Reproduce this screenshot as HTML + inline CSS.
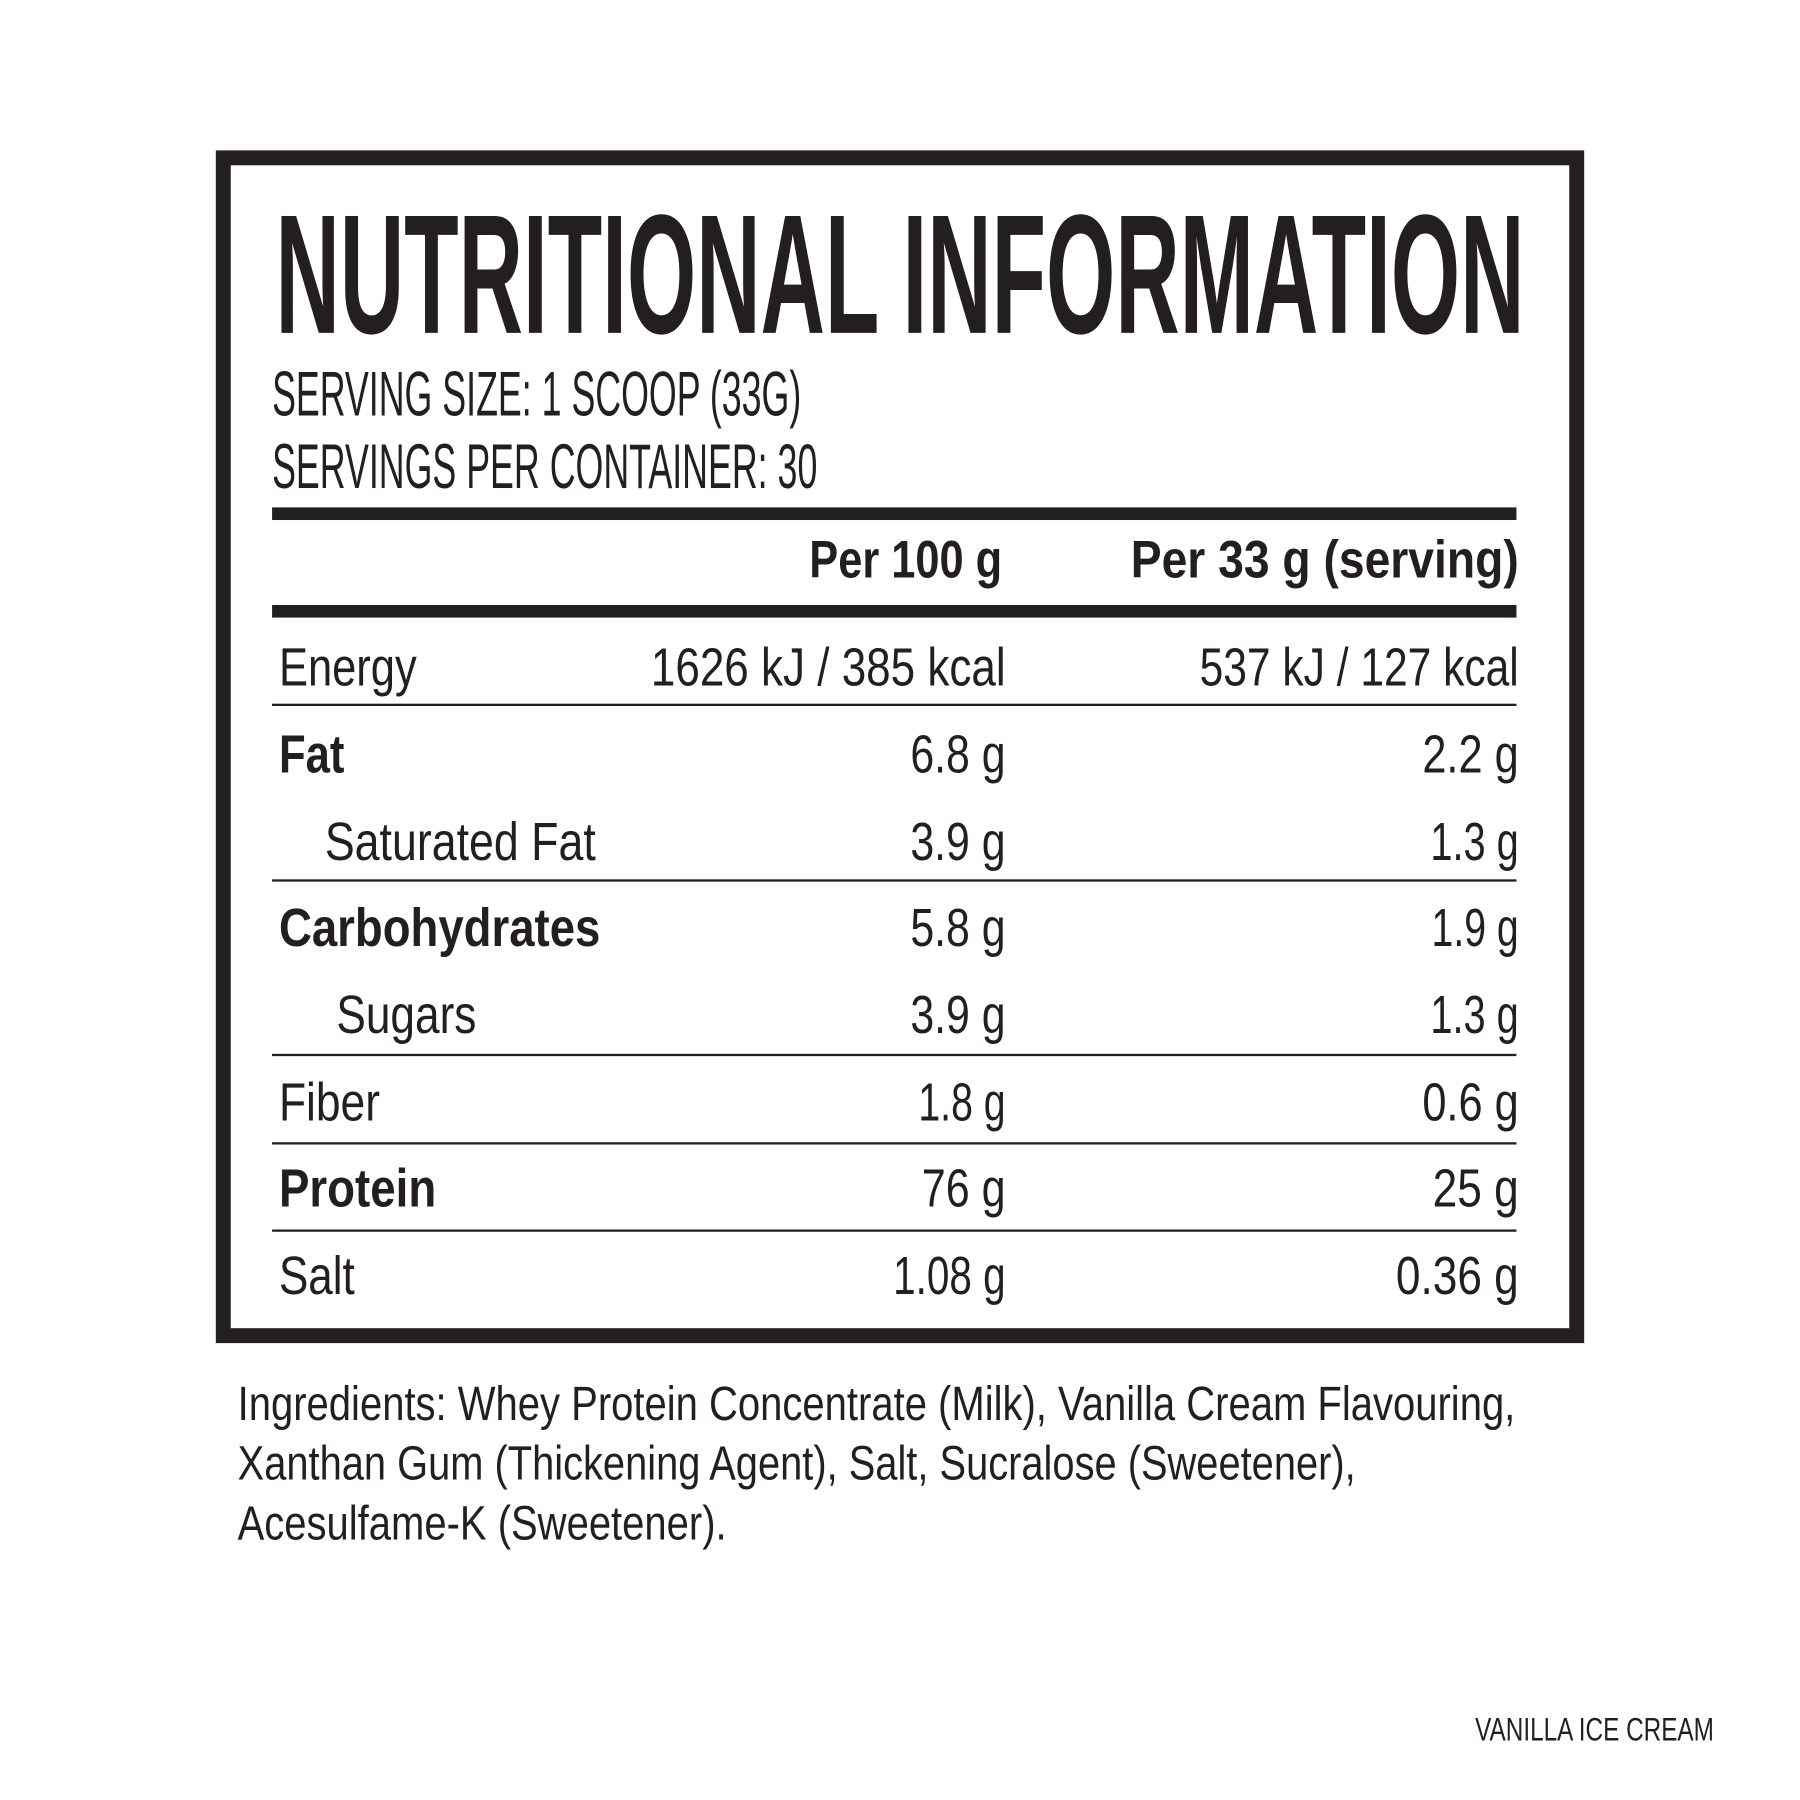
<!DOCTYPE html>
<html><head><meta charset="utf-8"><style>
html,body{margin:0;padding:0;background:#fff;}
svg{display:block;}
text{font-family:"Liberation Sans Narrow","Liberation Sans",sans-serif;fill:#231f20;}
.b{font-weight:bold;}
</style></head><body>
<svg width="1800" height="1800" viewBox="0 0 1568 1568" xmlns="http://www.w3.org/2000/svg">
<rect x="0" y="0" width="1568" height="1568" fill="#fff"/>
<rect x="194.5" y="137.5" width="1179" height="1026" fill="none" stroke="#231f20" stroke-width="13"/>
<text class="b" x="240" y="290" font-size="148" textLength="1088" lengthAdjust="spacingAndGlyphs">NUTRITIONAL INFORMATION</text>
<text x="237" y="362" font-size="55" textLength="461" lengthAdjust="spacingAndGlyphs">SERVING SIZE: 1 SCOOP (33G)</text>
<text x="237" y="425" font-size="55" textLength="475" lengthAdjust="spacingAndGlyphs">SERVINGS PER CONTAINER: 30</text>
<rect x="237" y="442" width="1084" height="11" fill="#231f20"/>
<text class="b" x="705" y="503" font-size="46" textLength="168" lengthAdjust="spacingAndGlyphs">Per 100 g</text>
<text class="b" x="985" y="503" font-size="46" textLength="338" lengthAdjust="spacingAndGlyphs">Per 33 g (serving)</text>
<rect x="237" y="527" width="1084" height="11" fill="#231f20"/>
<g fill="#231f20">
<rect x="237" y="613" width="1084" height="2"/>
<rect x="237" y="766" width="1084" height="2"/>
<rect x="237" y="918" width="1084" height="2"/>
<rect x="237" y="995" width="1084" height="2"/>
<rect x="237" y="1071" width="1084" height="2"/>
</g>
<g font-size="47">
<text x="243" y="597" textLength="120" lengthAdjust="spacingAndGlyphs">Energy</text>
<text x="567" y="597" textLength="309" lengthAdjust="spacingAndGlyphs">1626 kJ / 385 kcal</text>
<text x="1045" y="597" textLength="278" lengthAdjust="spacingAndGlyphs">537 kJ / 127 kcal</text>

<text class="b" x="243" y="673" textLength="57" lengthAdjust="spacingAndGlyphs">Fat</text>
<text x="793" y="673" textLength="83" lengthAdjust="spacingAndGlyphs">6.8 g</text>
<text x="1239" y="673" textLength="84" lengthAdjust="spacingAndGlyphs">2.2 g</text>

<text x="283" y="749" textLength="236" lengthAdjust="spacingAndGlyphs">Saturated Fat</text>
<text x="793" y="749" textLength="83" lengthAdjust="spacingAndGlyphs">3.9 g</text>
<text x="1246" y="749" textLength="77" lengthAdjust="spacingAndGlyphs">1.3 g</text>

<text class="b" x="243" y="824" textLength="280" lengthAdjust="spacingAndGlyphs">Carbohydrates</text>
<text x="793" y="824" textLength="83" lengthAdjust="spacingAndGlyphs">5.8 g</text>
<text x="1247" y="824" textLength="76" lengthAdjust="spacingAndGlyphs">1.9 g</text>

<text x="293" y="900" textLength="122" lengthAdjust="spacingAndGlyphs">Sugars</text>
<text x="793" y="900" textLength="83" lengthAdjust="spacingAndGlyphs">3.9 g</text>
<text x="1246" y="900" textLength="77" lengthAdjust="spacingAndGlyphs">1.3 g</text>

<text x="243" y="976" textLength="88" lengthAdjust="spacingAndGlyphs">Fiber</text>
<text x="800" y="976" textLength="76" lengthAdjust="spacingAndGlyphs">1.8 g</text>
<text x="1239" y="976" textLength="84" lengthAdjust="spacingAndGlyphs">0.6 g</text>

<text class="b" x="243" y="1051" textLength="137" lengthAdjust="spacingAndGlyphs">Protein</text>
<text x="803" y="1051" textLength="73" lengthAdjust="spacingAndGlyphs">76 g</text>
<text x="1248" y="1051" textLength="75" lengthAdjust="spacingAndGlyphs">25 g</text>

<text x="243" y="1127" textLength="66" lengthAdjust="spacingAndGlyphs">Salt</text>
<text x="778" y="1127" textLength="98" lengthAdjust="spacingAndGlyphs">1.08 g</text>
<text x="1216" y="1127" textLength="107" lengthAdjust="spacingAndGlyphs">0.36 g</text>
</g>
<g font-size="42">
<text x="207" y="1237" textLength="1113" lengthAdjust="spacingAndGlyphs">Ingredients: Whey Protein Concentrate (Milk), Vanilla Cream Flavouring,</text>
<text x="207" y="1289" textLength="974" lengthAdjust="spacingAndGlyphs">Xanthan Gum (Thickening Agent), Salt, Sucralose (Sweetener),</text>
<text x="207" y="1341" textLength="426" lengthAdjust="spacingAndGlyphs">Acesulfame-K (Sweetener).</text>
</g>
<text x="1285" y="1516" font-size="28" textLength="208" lengthAdjust="spacingAndGlyphs">VANILLA ICE CREAM</text>
</svg>
</body></html>
